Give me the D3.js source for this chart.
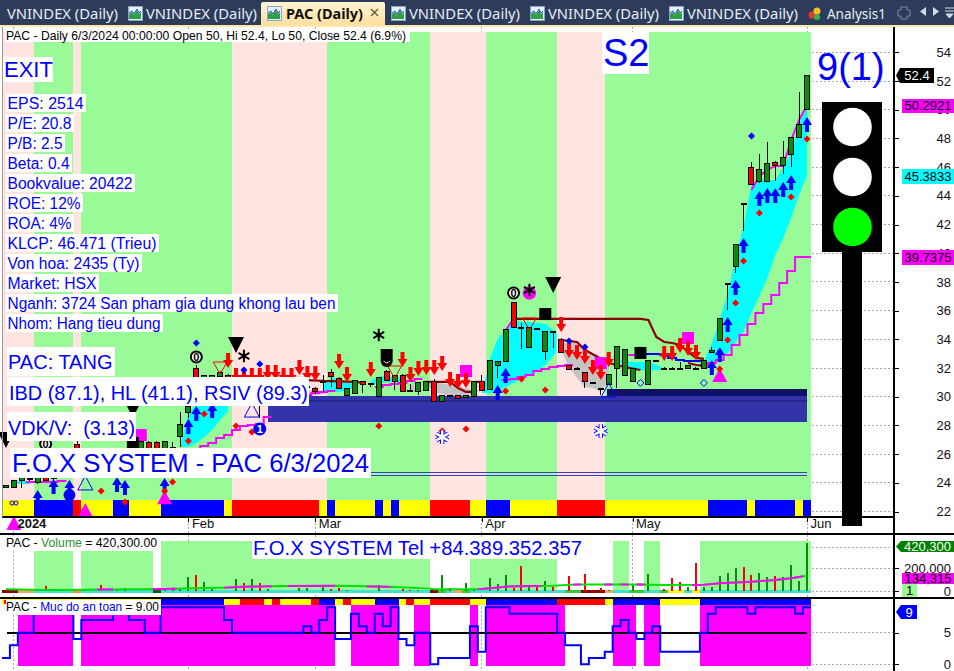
<!DOCTYPE html>
<html><head><meta charset="utf-8">
<style>html,body{margin:0;padding:0;background:#fff;overflow:hidden}svg{display:block}text{font-family:"Liberation Sans",Arial,sans-serif}rect,line{shape-rendering:crispEdges}</style>
<script src="https://cdn.jsdelivr.net/npm/d3@7/dist/d3.min.js"></script>
</head><body><svg id="c" width="954" height="671"></svg>
<script>
// ---------- candles (index 0..101) ----------
const opens=[23.64,23.64,24.19,24.33,24.05,24.75,24.33,25.03,24.89,26.64,25.24,25.24,26.15,25.59,25.59,26.0,25.94,25.94,26.84,26.84,25.94,26.49,27.26,28.93,32.0,30.82,30.82,31.44,31.51,31.16,30.33,30.96,29.7,30.82,30.5,30.4,30.2,30.4,30.7,30.54,31.03,31.72,31.3,30.05,30.19,31.03,30.89,29.98,31.79,31.03,31.51,30.4,30.33,30.4,31.03,29.7,30.05,30.05,29.91,29.98,31.03,30.47,32.14,32.42,36.53,34.79,33.46,34.72,33.12,34.51,34.02,32.14,32.0,31.72,30.96,30.54,30.82,32.0,31.51,31.03,33.0,30.82,32.49,32.0,32.0,32.0,32.0,32.0,32.0,33.05,33.95,37.92,39.04,43.43,45.94,45.03,45.03,46.29,46.08,46.91,48.03,50.0];
const highs=[23.78,24.19,24.4,24.5,24.54,24.8,25.0,25.1,25.59,26.9,26.15,25.94,26.2,26.29,26.29,26.1,26.9,26.9,26.9,26.9,26.9,26.84,28.93,29.6,32.2,31.51,31.51,31.8,31.6,31.2,31.16,31.0,30.96,30.9,30.6,30.45,30.9,30.6,30.75,30.7,31.5,31.9,31.4,30.54,31.16,31.1,30.95,31.37,31.85,31.51,31.6,30.89,30.96,31.03,31.2,30.05,30.1,30.05,30.05,31.03,31.51,32.49,32.42,34.65,36.53,35.14,34.79,34.76,34.51,34.6,34.1,32.2,32.05,31.72,31.0,30.6,31.58,33.53,33.26,32.0,33.1,32.49,32.55,32.05,32.05,32.42,32.14,32.05,32.49,33.46,35.48,37.92,40.64,43.43,46.36,46.91,47.75,46.43,47.82,48.03,51.23,52.4];
const lows=[23.64,23.64,23.64,24.1,23.9,24.1,24.2,24.4,24.89,25.1,25.24,25.24,25.4,25.59,25.59,25.7,25.94,25.94,25.94,25.94,25.94,26.49,26.49,28.5,30.7,30.82,30.82,31.3,30.82,30.4,30.33,30.1,28.5,30.1,30.4,30.3,30.1,30.3,30.6,30.2,30.3,30.68,30.54,30.05,30.19,30.26,30.7,29.98,31.16,30.47,30.33,30.3,30.1,30.4,29.7,29.7,30.0,29.84,29.9,29.98,30.4,30.47,31.3,32.42,34.79,33.32,33.46,34.68,32.56,33.39,33.05,31.93,31.95,30.61,30.9,30.12,30.82,30.61,31.51,31.03,32.9,30.82,32.45,31.95,31.95,31.95,32.0,31.95,32.0,33.05,33.95,36.04,38.62,41.55,44.82,44.89,45.03,45.03,45.52,46.01,48.03,50.0];
const closes=[23.78,24.19,24.4,24.31,24.54,24.19,24.89,24.47,25.59,25.24,26.15,25.94,25.45,26.29,26.29,25.6,26.9,26.9,25.94,25.94,26.9,26.47,28.03,29.35,30.82,31.51,31.51,31.72,30.82,30.47,31.16,30.2,30.96,30.12,30.48,30.38,30.9,30.38,30.68,30.33,31.0,31.44,30.54,30.54,31.16,30.82,30.87,31.37,31.16,31.51,30.33,30.38,30.96,31.03,29.7,30.05,30.03,29.84,30.05,31.03,30.4,32.49,32.42,34.65,34.79,34.77,34.79,34.7,34.51,34.49,33.05,31.93,31.98,31.03,30.94,30.52,31.58,33.53,33.26,32.0,32.98,32.49,32.47,31.98,31.98,31.98,32.14,31.98,32.49,33.19,35.48,37.9,40.64,43.41,44.82,45.8,46.22,46.08,46.7,48.03,49.0,52.4];

// ---------- background states ----------
const bandStart=[0,4,9,10,29,41,54,61,70,76,102];
const bandKind=["pink","green","pink","green","pink","green","pink","green","pink","green"];
const stripStart=[0,4,9,10,14,16,20,28,29,40,41,42,47,48,49,50,54,59,61,64,70,76,89,94,95,100,101,102];
const stripKind=["y","b","r","y","b","y","b","y","r","y","b","y","b","y","b","y","r","y","b","y","r","y","b","y","b","y","b"];
const safeStripStart=[0,20,28,30,33,34,35,39,40,42,43,44,47,50,51,52,54,59,61,70,76,77,83,88,102];
const safeStripKind=["y","b","y","r","y","r","y","r","b","y","r","y","b","y","r","y","r","y","b","r","y","b","y","b"];
const volBands=[[4,9],[10,19],[20,54],[59,70],[77,79],[81,83],[88,102]];
const floorSegments=[[0,2,"#8b0000"],[2,4,"#f4a460"],[9,10,"#ff8c3c"],[19,20,"#006400"],[54,55,"#8b0000"],[55,56,"#32cd32"],[57,58,"#f4a460"],[58,59,"#32cd32"],[71,73,"#32cd32"],[73,76,"#8b0000"],[76,77,"#f4a460"],[79,81,"#32cd32"],[83,84,"#32cd32"],[84,86,"#ffff00"],[87,88,"#ffff00"]];

// ---------- clouds: [index, upper, lower] ----------
const cloudCyan=[
 [[1,24.12,23.92],[3,24.12,23.92]],
 [[22,26.49,26.49],[23,28.93,26.49],[24,29.42,26.77],[25,29.56,27.19],[26,29.56,27.68],[27,29.56,28.38],[28,29.42,29.0]],
 [[40,30.82,30.26],[41,31.3,30.33],[42,31.3,30.33],[43,31.03,30.47],[44,30.82,30.6]],
 [[46,31.1,30.8],[47,31.4,30.96],[48,31.4,31.03],[50,31.3,31.0]],
 [[60,30.26,30.26],[61,32.63,30.26],[62,34.02,30.4],[63,34.65,30.68],[64,35.35,30.96],[65,35.21,31.23],[66,35.21,31.51],[67,35.14,31.79],[68,35.07,32.21],[69.4,34.44,33.12]],
 [[77,32.7,32.7],[78,32.49,32.14],[79,32.42,31.93],[80,32.42,31.86],[81,32.42,31.79],[82,32.21,31.86],[83,31.93,31.86]],
 [[88,32.42,32.42],[89,33.74,32.21],[90,35.35,32.56],[91,37.23,33.05],[92,39.67,33.81],[93,41.9,34.58],[94,44.75,35.83],[95,45.17,37.02],[96,45.1,38.27],[97,45.1,39.87],[98,46.01,41.06],[99,46.98,42.45],[100,48.93,44.06],[101,50.29,45.38]]
];
const cloudGray=[
 [[38,30.4,30.2],[39,30.5,30.1],[40,30.4,30.2]],
 [[51,30.82,30.33],[52,30.82,30.33]],
 [[53,30.9,30.8],[54,31.03,30.33],[56,30.82,30.05],[58,30.61,30.05],[59,30.47,30.19]],
 [[70,33.6,33.26],[71,33.81,32.07],[72,33.81,31.3],[73,33.32,30.68],[74,32.91,30.61],[75,32.49,30.33],[76,32.07,31.3]]
];
// ---------- step / trend lines: [index, price] ----------
const stopSteps=[
 [[3,24.05],[7,24.12],[8,24.19]],
 [[24,26.35],[25,26.56],[26,26.77],[27,27.12],[28,27.33],[29,27.68],[30,27.96],[31,28.03],[32,28.1],[33,28.59],[34,28.59]],
 [[38,30.12],[39,30.26],[40,30.33],[41,30.4],[42,30.4]],
 [[47,30.68],[48,30.82],[49,30.89],[50,30.96],[51,31.09],[52,31.23],[53,31.23]],
 [[63,31.16],[64,31.23],[65,31.37],[66,31.51],[67,31.79],[68,31.93],[69,32.07],[70,32.14],[71,32.21],[72,32.21]],
 [[79,32.91],[80,32.98],[81,32.98],[82,32.98]],
 [[88,32.21],[89,32.35],[90,32.56],[91,32.91],[92,33.6],[93,34.3],[94,35.07],[95,35.83],[96,36.46],[97,37.09],[98,37.92],[99,38.76],[100,39.74],[101,39.74],[102,39.74]]
];
const upperTrail=[[[94,44.4],[95,45.38],[96,45.8],[97,46.08],[98,46.08],[99,47.89],[100,49.28],[101,50.29]],[[63,34.65],[64,35.42]],[[71,35.42],[72,35.42]]];
const darkRedLines=[
 [[38,31.16],[40,31.1],[44,31.03],[45,30.96]],
 [[53,31.03],[56,31.03],[57,30.61],[58,30.33],[59,30.33]],
 [[59,31.03],[60,31.03]],
 [[64,35.42],[80,35.42],[81,35.35],[82,34.16],[83,33.81],[84,33.74],[85,33.6],[86,33.12],[87,32.7],[88,32.63]],
 [[70,33.95],[72,33.81],[73,33.26],[76,32.35],[78,32.07],[80,31.86]],
 [[86,32.35],[87,32.21],[88,32.14]]
];
const blueTrend=[[81,32.98],[82,32.98],[83,32.91],[84,32.7],[85,32.56],[86,32.49],[88,32.42]];

// ---------- markers: [index, price] ----------
const redArrows=[[28,32.0],[29,30.96],[30,30.96],[31,30.96],[32,30.96],[33,31.16],[34,31.16],[35,30.96],[36,30.96],[37,31.51],[38,31.09],[39,31.09],[42,31.93],[43,31.03],[46,31.37],[50,32.07],[51,31.03],[52,31.44],[53,31.51],[54,31.51],[55,31.79],[56,30.68],[57,30.54],[58,30.61],[70,34.51],[71,32.7],[72,32.56],[73,32.28],[74,31.51],[75,31.16],[76,32.07],[83,32.49],[84,32.49],[85,33.05],[86,32.84],[87,32.56]];
const blueArrows=[[4,23.5],[6,24.26],[8,24.19],[14,24.4],[15,24.19],[20,24.33],[23,28.45],[24,29.35],[26,29.56],[62,30.82],[63,32.0],[89,32.56],[90,33.46],[91,35.55],[92,38.13],[93,41.06],[95,44.34],[96,44.55],[97,44.55],[98,44.96],[99,45.45],[101,49.49]];
const redDiamonds=[[12,23.43],[15,22.66],[20,23.43],[21,24.05],[23,26.91],[25,28.79],[29,27.96],[31,27.54],[47,27.96],[55,27.61],[58,27.75],[63,30.4],[65,31.23],[68,30.47],[90,31.93],[91,33.95],[92,36.53],[93,39.46],[95,42.8],[99,43.92],[101,47.96]];
const blueDiamonds=[[24,33.74],[30,31.86],[32,32.28],[71,33.88],[73,33.46],[94,48.17]];
const hollowDiamonds=[[80,30.96],[88,30.96]];
const magentaSquares=[[17,27.33],[58,31.79],[75,32.35],[86,34.09]];
const blackSquares=[[16,26.77],[68,35.76],[80,33.05]];
const blackTriangles=[[0,26.99],[16,29.07],[29,33.6],[69,37.78]];
const asterisks=[[30,32.84],[47,34.3],[66,37.44]];
const magentaCircles=[[66,37.23]];
const circledZero=[[5,26.7],[24,32.77],[64,37.23]];
const circledOne=[[32,27.75]];
const blueDots=[[8,23.15]];
const hats=[[48,32.7]];
const snowflakes=[[55,27.19],[75,27.61]];
const redHollowDown=[[27,32.0],[49,31.72],[66,35.07]];
const blueHollowUp=[[10,23.99],[31,29.07],[76,30.47]];
const magentaTriangles=[[1,21.2],[10,22.1],[20,23.0],[90,31.51]];
const horizontalBars=[[33,101,29.42,28.27,"#3333aa"],[38,101,30.05,29.42,"#3333aa"],[75.8,101,30.54,30.05,"#111166"],[38,101,29.74,29.64,"#26268c"]];
const thinLevels=[24.75,24.54];

// ---------- volume ----------
const volIndex=[4,5,7,10,12,14,15,20,21,22,23,24,25,26,29,30,31,32,33,37,38,40,41,42,43,47,50,51,52,55,56,58,59,61,62,63,64,65,66,67,68,69,71,73,75,76,79,81,83,84,85,86,87,88,89,90,91,92,93,94,95,96,97,98,99,100,101];
const volValue=[15000,44000,9000,9000,53000,9000,23000,23000,23000,15000,126000,140000,79000,15000,105000,73000,105000,73000,15000,23000,23000,38000,15000,23000,9000,53000,15000,9000,9000,140000,23000,67000,15000,111000,58000,140000,23000,219000,53000,38000,88000,32000,131000,149000,23000,9000,53000,149000,18000,114000,79000,32000,245000,32000,32000,131000,158000,202000,210000,140000,158000,123000,131000,123000,228000,88000,420300];
const volRedIndex=[5,12,24,30,32,41,42,50,51,56,64,65,67,69,71,73,75,83,84,85,87,93,94,97];
const volMA=[[0,15000],[5,9000],[10,12000],[20,18000],[28,30000],[30,38000],[36,44000],[42,47000],[48,38000],[53,23000],[54,15000],[60,18000],[63,38000],[66,44000],[69,47000],[72,58000],[77,58000],[80,58000],[83,53000],[88,55000],[90,67000],[94,82000],[97,96000],[99,111000],[101,134315]];
const volMAMagenta=[[12,14],[19,22],[28,34],[36,42],[46,49],[60,68],[72,73],[76,77],[78,79],[80,81],[87,101]];

// ---------- safety level ----------
const safetyLevel=[1,3,5,5,8,8,8,8,8,4,7,7,7,7,8,8,7,7,5,5,9,9,9,9,9,9,9,9,7,5,5,5,5,5,5,5,5,5,6,5,7,9,4,4,8,6,5,8,6,9,4,3,5,5,0,1,1,1,1,6,2,9,9,9,8,8,8,8,8,8,5,3,3,0,1,1,2,6,7,5,4,5,6,2,2,2,2,2,5,8,9,9,9,9,8,9,9,9,9,9,8,9];

// ---------- texts / ticks ----------
const priceTicks=[54,52,50,48,46,44,42,40,38,36,34,32,30,28,26,24,22];
const volumeTicks=[200000,0];
const safetyTicks=[5,0];
const monthIndex=[1,23,39,60,79,101];
const monthLabels=["2024","Feb","Mar","Apr","May","Jun"];
const fundamentals=["EPS: 2514","P/E: 20.8","P/B: 2.5","Beta: 0.4","Bookvalue: 20422","ROE: 12%","ROA: 4%","KLCP: 46.471 (Trieu)","Von hoa: 2435 (Ty)","Market: HSX","Nganh: 3724 San pham gia dung khong lau ben","Nhom: Hang tieu dung"];
const fundamentalWidths=[76,64,55,62,125,73,64,149,132,89,328,153];
const tabs=[["VNINDEX (Daily)",7,111],["VNINDEX (Daily)",146,111],["VNINDEX (Daily)",409,111],["VNINDEX (Daily)",548,111],["VNINDEX (Daily)",687,111]];
const tabIcons=[128,391,530,669];

// ---------- scales ----------
const x=d3.scaleLinear().domain([0,101]).range([6,807]);
const e=i=>x(i)-4;
const yP=d3.scaleLinear().domain([22,54]).range([511.5,52.3]);
const yV=d3.scaleLinear().domain([0,420300]).range([591,543]);
const yS=d3.scaleLinear().domain([0,9]).range([664.3,607.3]);
const AX=894;
const BLUE="#0000ff",MAG="#ff00ff",CY="#00ffff",GR="#98fb98",PK="#ffe4e1",RED="#ff0000",CG="#0b8a0b";
const kindCol={pink:PK,green:GR,y:"#ffff00",b:"#0000ff",r:"#ff0000"};
const svg=d3.select("#c");
svg.append("rect").attr("width",954).attr("height",671).attr("fill","#fff");

// tab bar
const defs=svg.append("defs");
const g0=defs.append("linearGradient").attr("id","act").attr("x1",0).attr("x2",0).attr("y1",0).attr("y2",1);
g0.append("stop").attr("offset",0).attr("stop-color","#fff4d6");
g0.append("stop").attr("offset",1).attr("stop-color","#ffdf9e");
svg.append("rect").attr("width",954).attr("height",25).attr("fill","#2c3c5a");
svg.append("rect").attr("y",25).attr("width",954).attr("height",2).attr("fill","#ffe8a6");
svg.append("path").attr("d","M261,25V4q0,-2 2,-2H383q2,0 2,2V25Z").attr("fill","url(#act)");
function icon(px){
 const g=svg.append("g").attr("transform",`translate(${px},6)`);
 g.append("rect").attr("width",14).attr("height",14).attr("fill","#e6f0fa").attr("stroke","#8ea4c4");
 g.append("path").attr("d","M1,13V8L4,6L6,9L9,4L11,8L13,6V13Z").attr("fill","#2f9e44");
 g.append("path").attr("d","M1,7L4,5L6,8L9,3L11,7L13,5").attr("fill","none").attr("stroke","#2255cc");
}
tabIcons.forEach(icon);icon(267);
tabs.forEach(t=>svg.append("text").attr("x",t[1]).attr("y",19).attr("fill","#e8ecf4").style("font-family","'Noto Sans'").style("font-size","15px").attr("textLength",t[2]).attr("lengthAdjust","spacingAndGlyphs").text(t[0]));
svg.append("text").attr("x",286).attr("y",19).attr("fill","#111").style("font-family","'Noto Sans'").style("font-size","15px").style("font-weight","700").attr("textLength",77).attr("lengthAdjust","spacingAndGlyphs").text("PAC (Daily)");
svg.append("path").attr("d","M371,9l7,7M378,9l-7,7").attr("stroke","#6b5a3a").attr("stroke-width",1.4);
svg.append("text").attr("x",827).attr("y",19).attr("fill","#e8ecf4").style("font-family","'Noto Sans'").style("font-size","15px").attr("textLength",59).attr("lengthAdjust","spacingAndGlyphs").text("Analysis1");
const hi=svg.append("g").attr("transform","translate(808,7)");
hi.append("circle").attr("cx",4).attr("cy",8).attr("r",3.5).attr("fill","#e23b2e");
hi.append("circle").attr("cx",9).attr("cy",4).attr("r",3.5).attr("fill","#f4c020");
hi.append("circle").attr("cx",9).attr("cy",10).attr("r",3).attr("fill","#39b54a");
svg.append("path").attr("d","M901,9h6v3h3v6h-3v3h-6v-3h-3v-6h3Z").attr("fill","none").attr("stroke","#7d8aa3").attr("transform","translate(0,-2)");
svg.append("path").attr("d","M926,7v9l-6,-4.5Z").attr("fill","#d5dbe6");
svg.append("path").attr("d","M933,7v9l6,-4.5Z").attr("fill","#d5dbe6");
svg.append("path").attr("d","M945,8h9M945,11h9M946,14l3.5,4l3.5,-4Z").attr("stroke","#d5dbe6").attr("fill","#d5dbe6");

// dotted grid
const grid=svg.append("g").attr("stroke","#aaa").attr("stroke-dasharray","2,2");
monthIndex.forEach(i=>grid.append("line").attr("x1",x(i)).attr("x2",x(i)).attr("y1",27).attr("y2",671));
priceTicks.forEach(v=>grid.append("line").attr("x1",812).attr("x2",AX).attr("y1",yP(v)).attr("y2",yP(v)));
volumeTicks.forEach(v=>grid.append("line").attr("x1",812).attr("x2",AX).attr("y1",yV(v)).attr("y2",yV(v)));
grid.append("line").attr("x1",812).attr("x2",AX).attr("y1",yV(420300)+4).attr("y2",yV(420300)+4);
safetyTicks.forEach(v=>grid.append("line").attr("x1",812).attr("x2",AX).attr("y1",yS(v)).attr("y2",yS(v)));

// bands
bandKind.forEach((k,n)=>svg.append("rect").attr("x",e(bandStart[n])).attr("width",e(bandStart[n+1])-e(bandStart[n])).attr("y",32).attr("height",468).attr("fill",kindCol[k]));
stripKind.forEach((k,n)=>svg.append("rect").attr("x",e(stripStart[n])).attr("width",e(stripStart[n+1])-e(stripStart[n])).attr("y",500).attr("height",16).attr("fill",kindCol[k]));

// horizontal bars, thin levels
horizontalBars.forEach(b=>svg.append("rect").attr("x",x(b[0])).attr("width",x(b[1])-x(b[0])).attr("y",yP(b[2])).attr("height",yP(b[3])-yP(b[2])).attr("fill",b[4]));
thinLevels.forEach(v=>svg.append("line").attr("x1",x(46)).attr("x2",x(101)).attr("y1",yP(v)).attr("y2",yP(v)).attr("stroke","#3a3acc"));

// clouds
const area=d3.area().x(d=>x(d[0])).y0(d=>yP(d[2])).y1(d=>yP(d[1]));
cloudCyan.forEach(c=>svg.append("path").attr("d",area(c)).attr("fill",CY));
cloudGray.forEach(c=>svg.append("path").attr("d",area(c)).attr("fill","#c4c4c4"));

// lines
const stepL=d3.line().x(d=>e(d[0])).y(d=>yP(d[1])).curve(d3.curveStepAfter);
const lineL=d3.line().x(d=>x(d[0])).y(d=>yP(d[1]));
stopSteps.forEach(s=>svg.append("path").attr("d",stepL(s)).attr("fill","none").attr("stroke",MAG).attr("stroke-width",2));
upperTrail.forEach(s=>svg.append("path").attr("d",lineL(s)).attr("fill","none").attr("stroke",MAG).attr("stroke-width",2));
darkRedLines.forEach(s=>svg.append("path").attr("d",lineL(s)).attr("fill","none").attr("stroke","#8b0000").attr("stroke-width",2.2));
svg.append("path").attr("d",stepL(blueTrend)).attr("fill","none").attr("stroke",BLUE).attr("stroke-width",2);

// candles
opens.forEach((o,i)=>{
 const c=closes[i],g=svg.append("g");
 g.append("line").attr("x1",x(i)).attr("x2",x(i)).attr("y1",yP(highs[i])).attr("y2",yP(lows[i])).attr("stroke","#000");
 const t=Math.max(o,c),b=Math.min(o,c);
 g.append("rect").attr("x",x(i)-2.5).attr("width",5).attr("y",yP(t)).attr("height",Math.max(yP(b)-yP(t),1)).attr("fill",c>=o?CG:RED).attr("stroke","#000").attr("stroke-width",1);
});

// marker helpers
const mx=d=>x(d[0]),my=d=>yP(d[1]);
function pathAt(list,dfn,attrs){list.forEach(d=>{const p=svg.append("path").attr("d",dfn).attr("transform",`translate(${mx(d)},${my(d)})`);Object.entries(attrs).forEach(([k,v])=>p.attr(k,v));});}
const triDown="M-8,-8L8,-8L0,8Z",triUp="M-7.5,7L7.5,7L0,-7Z";
const arrowDown="M0,0L-5,-8L-2,-8L-2,-15L2,-15L2,-8L5,-8Z",arrowUp="M0,0L-5,8L-2,8L-2,15L2,15L2,8L5,8Z";
const diamond="M0,-3.5L3.5,0L0,3.5L-3.5,0Z",square=s=>`M${-s},${-s}H${s}V${s}H${-s}Z`;
pathAt(magentaCircles,d3.symbol(d3.symbolCircle,140)(),{fill:MAG});
pathAt(magentaSquares,square(6),{fill:MAG});
pathAt(blackSquares,square(6),{fill:"#000"});
pathAt(blackTriangles,triDown,{fill:"#000"});
pathAt(redHollowDown,"M-7,-6L7,-6L0,6Z",{fill:"none",stroke:RED});
pathAt(blueHollowUp,triUp,{fill:"none",stroke:BLUE});
pathAt(magentaTriangles,triUp,{fill:MAG});
pathAt(redArrows,arrowDown,{fill:RED});
pathAt(blueArrows,arrowUp,{fill:BLUE});
pathAt(redDiamonds,diamond,{fill:RED});
pathAt(blueDiamonds,diamond,{fill:BLUE});
pathAt(hollowDiamonds,diamond,{fill:"none",stroke:BLUE});
pathAt(asterisks,d3.symbol(d3.symbolAsterisk,110)(),{fill:"none",stroke:"#000","stroke-width":2});
pathAt(blueDots,d3.symbol(d3.symbolCircle,110)(),{fill:BLUE});
pathAt(snowflakes,d3.symbol(d3.symbolAsterisk,130)(),{fill:"none",stroke:BLUE,"stroke-width":4.5});
pathAt(snowflakes,d3.symbol(d3.symbolAsterisk,130)(),{fill:"none",stroke:"#fff","stroke-width":2.5});
hats.forEach(d=>{
 svg.append("path").attr("d","M-6,-9H6V3A6,6 0 0 1 -6,3Z").attr("transform",`translate(${mx(d)},${my(d)})`).attr("fill","#000");
 svg.append("path").attr("d","M-3,3Q0,7 3,3").attr("transform",`translate(${mx(d)},${my(d)})`).attr("fill","none").attr("stroke","#fff");
});
function circled(list,label,fg,bg){list.forEach(d=>{
 svg.append("circle").attr("cx",mx(d)).attr("cy",my(d)).attr("r",5.5).attr("fill",bg).attr("stroke",fg==="#fff"?bg:fg).attr("stroke-width",2);
 svg.append("text").attr("x",mx(d)).attr("y",my(d)+4).attr("text-anchor","middle").attr("fill",fg).style("font-size","11px").style("font-weight","700").text(label);
});}
circled(circledZero,"0","#000","#fff");
circled(circledOne,"1","#fff",BLUE);
[12,16].forEach(px=>svg.append("circle").attr("cx",px).attr("cy",503).attr("r",2).attr("fill","none").attr("stroke",BLUE));

// traffic light
svg.append("rect").attr("x",842).attr("y",252).attr("width",20).attr("height",274).attr("fill","#000");
svg.append("rect").attr("x",822).attr("y",102).attr("width",60).attr("height",150).attr("fill","#000");
[[127,"#fff"],[177,"#fff"],[227,"#00ff00"]].forEach(c=>svg.append("circle").attr("cx",852.5).attr("cy",c[0]).attr("r",19.3).attr("fill",c[1]));

// labels over the main pane
function box(x0,y0,w,h){svg.append("rect").attr("x",x0).attr("y",y0).attr("width",w).attr("height",h).attr("fill","#fff");}
function label(s,tx,by,size,opts={}){
 const t=svg.append("text").attr("x",tx).attr("y",by).attr("fill",opts.fill||BLUE).style("font-size",size+"px").text(s);
 if(opts.len)t.attr("textLength",opts.len).attr("lengthAdjust","spacingAndGlyphs");
 return t;
}
box(5,31,405,11);
label("PAC - Daily 6/3/2024 00:00:00 Open 50, Hi 52.4, Lo 50, Close 52.4 (6.9%)",6,40,13,{fill:"#000",len:400});
box(3,57,50,25);label("EXIT",4,77,22);
fundamentals.forEach((s,n)=>{
 box(6,94+n*20,fundamentalWidths[n]+4,18);
 label(s,7.5,109+n*20,16,{len:fundamentalWidths[n]});
});
box(602,32,47,42);label("S2",603,66,38);
label("9(1)",817,80,38);
box(7,347,108,29);label("PAC: TANG",8,369,20);
box(7,377,302,29);label("IBD (87.1), HL (41.1), RSIV (89.3)",9,400,20,{len:299});
box(7,412,129,29);label("VDK/V:  (3.13)",8,435,20,{len:127}).style("white-space","pre");
box(10,448,361,30);label("F.O.X SYSTEM - PAC 6/3/2024",12,472,26,{len:357});

// bottom axis
svg.append("line").attr("x1",2).attr("x2",AX).attr("y1",517).attr("y2",517).attr("stroke","#000").attr("stroke-width",1.5);
const ma=d3.axisBottom(x).tickValues(monthIndex).tickSize(5).tickFormat((d,n)=>monthLabels[n]);
const ag=svg.append("g").attr("transform","translate(0,517)").call(ma);
ag.select(".domain").remove();
ag.selectAll("text").attr("text-anchor","start").attr("dx",3).attr("y",2).attr("dy","0.71em").attr("fill","#111").style("font-size","13px").style("font-family","'Liberation Sans'").style("font-weight",(d,n)=>n===0?700:400);
ag.selectAll(".tick").filter((d,n)=>n===0).select("line").remove();

// volume pane
volBands.forEach(b=>svg.append("rect").attr("x",e(b[0])).attr("width",e(b[1])-e(b[0])).attr("y",541).attr("height",52).attr("fill",GR));
svg.append("rect").attr("x",e(0)).attr("width",e(102)-e(0)).attr("y",590).attr("height",3).attr("fill","#40e0d0");
floorSegments.forEach(s=>svg.append("rect").attr("x",e(s[0])).attr("width",e(s[1])-e(s[0])).attr("y",590).attr("height",3).attr("fill",s[2]));
volIndex.forEach((i,n)=>svg.append("rect").attr("x",x(i)-1).attr("width",2).attr("y",yV(volValue[n])).attr("height",yV(0)-yV(volValue[n])).attr("fill",volRedIndex.includes(i)?RED:CG));
const vl=d3.line().x(d=>x(d[0])).y(d=>yV(d[1]));
svg.append("path").attr("d",vl(volMA)).attr("fill","none").attr("stroke","#00e000").attr("stroke-width",2);
const vcp=defs.append("clipPath").attr("id","vm");
volMAMagenta.forEach(r=>vcp.append("rect").attr("x",e(r[0])).attr("width",e(r[1])-e(r[0])).attr("y",535).attr("height",60));
svg.append("path").attr("d",vl(volMA)).attr("fill","none").attr("stroke",MAG).attr("stroke-width",2).attr("clip-path","url(#vm)");
box(3,536,158,15);
const vt=svg.append("text").attr("x",6).attr("y",547).style("font-size","13px").attr("textLength",151).attr("lengthAdjust","spacingAndGlyphs");
vt.append("tspan").attr("fill","#000").text("PAC - ");
vt.append("tspan").attr("fill","#2f8f2f").text("Volume");
vt.append("tspan").attr("fill","#000").text(" = 420,300.00");
box(252,539,331,20);label("F.O.X SYSTEM Tel +84.389.352.357",253,555,20,{len:329});

// safety pane
safetyLevel.forEach((v,i)=>{if(v>=5)svg.append("rect").attr("x",e(i)).attr("width",e(i+1)-e(i)).attr("y",605).attr("height",61).attr("fill",MAG);});
safeStripKind.forEach((k,n)=>svg.append("rect").attr("x",e(safeStripStart[n])).attr("width",e(safeStripStart[n+1])-e(safeStripStart[n])).attr("y",599).attr("height",6).attr("fill",kindCol[k]));
svg.append("line").attr("x1",x(0)+1).attr("x2",x(101)).attr("y1",yS(5)).attr("y2",yS(5)).attr("stroke","#000").attr("stroke-width",2);
const sl=d3.line().x((d,i)=>e(i)).y(d=>yS(d)).curve(d3.curveStepAfter);
svg.append("path").attr("d",sl(safetyLevel.concat(safetyLevel[safetyLevel.length-1]))).attr("fill","none").attr("stroke",BLUE).attr("stroke-width",2);
box(4,600,157,15);
svg.append("rect").attr("x",4).attr("y",600).attr("width",2).attr("height",4).attr("fill",RED);
const st=svg.append("text").attr("x",6).attr("y",611).style("font-size","13px").attr("textLength",153).attr("lengthAdjust","spacingAndGlyphs");
st.append("tspan").attr("fill","#000").text("PAC - ");
st.append("tspan").attr("fill",BLUE).text("Muc do an toan");
st.append("tspan").attr("fill","#000").text(" = 9.00");

// frame
[534,598].forEach(v=>svg.append("line").attr("x1",0).attr("x2",954).attr("y1",v).attr("y2",v).attr("stroke","#000").attr("stroke-width",1.5));
svg.append("line").attr("x1",2).attr("x2",2).attr("y1",27).attr("y2",517).attr("stroke","#999");
svg.append("line").attr("x1",AX).attr("x2",AX).attr("y1",27).attr("y2",671).attr("stroke","#000").attr("stroke-width",1.5);

// right axes
function rightAxis(scale,vals,fmt){
 const g=svg.append("g").attr("transform",`translate(${AX},0)`).call(d3.axisRight(scale).tickValues(vals).tickSize(5).tickFormat(fmt));
 g.select(".domain").remove();
 g.selectAll("text").attr("x",57).attr("text-anchor","end").attr("fill","#111").style("font-size","13px").style("font-family","'Liberation Sans'");
}
rightAxis(yP,priceTicks,d=>d);
rightAxis(yV,volumeTicks,d3.format(","));
rightAxis(yS,safetyTicks,d=>d);

// value tags
function tag(x0,y0,w,h,fill,s,fg,pointer,cx){
 if(pointer)svg.append("path").attr("d",`M${AX+2},${y0+h/2}L${x0},${y0}H${x0+w}V${y0+h}H${x0}Z`).attr("fill",fill);
 else svg.append("rect").attr("x",x0).attr("y",y0).attr("width",w).attr("height",h).attr("fill",fill);
 svg.append("text").attr("x",cx||x0+w/2).attr("y",y0+h/2+4.5).attr("text-anchor","middle").attr("fill",fg).style("font-size","13px").text(s);
}
const closeLast=closes[closes.length-1];
tag(900,68,34,15,"#000",closeLast,"#fff",true);
tag(902,98.7,52,14.5,MAG,"50.2921","#000");
tag(902,169,52,15,CY,"45.3833","#000");
tag(902,250,52,15,MAG,"39.7375","#000");
tag(901,541,53,11,"#008000","420,300","#fff",true);
tag(902,573,52,11,MAG,"134,315","#000");
tag(902,584,15,13,GR,"1","#000");
tag(901,605,16,14,"#0000ff",safetyLevel[safetyLevel.length-1],"#fff",true);
</script></body></html>
